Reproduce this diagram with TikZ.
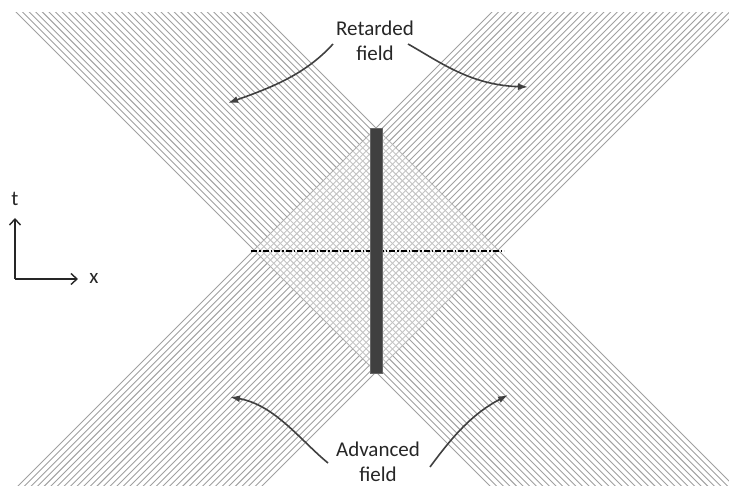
\documentclass[tikz,border=0pt]{standalone}
\usepackage{fontspec}
\setmainfont{Carlito}
\usetikzlibrary{arrows.meta}
\definecolor{linegray}{HTML}{A0A0A0}
\definecolor{bargray}{HTML}{404040}
\begin{document}
\begin{tikzpicture}[x=1pt,y=-1pt,
  fieldline/.style={draw=linegray,line width=0.9pt},
  curvearrow/.style={draw=bargray,line width=1.6pt,-{Latex[length=10pt,width=7pt]}},
  axisarrow/.style={draw=black!85,line width=1.4pt,-{Straight Barb[length=6pt,width=11pt]}},
  lbl/.style={font=\fontsize{21}{25}\selectfont,align=center,text=black!85,inner sep=0pt}]
\useasboundingbox (0,0) rectangle (729,486);
% field lines
\begin{scope}
  \clip (0,13) rectangle (729,486);
  \foreach \i in {0,...,37} {
    \pgfmathsetmacro\yy{128+\i*244/37}
    \draw[fieldline] (-124,\yy-500) -- (876,\yy+500);
    \draw[fieldline] (-124,\yy+500) -- (876,\yy-500);
  }
\end{scope}
% lighter crossing diamond
\fill[white,opacity=0.38] (376,128) -- (254,250) -- (376,372) -- (498,250) -- cycle;
% t = 0 line
\coordinate (dl) at (251,251);
\coordinate (dr) at (504,251);
\draw[black,line width=1.3pt,dash pattern=on 6pt off 2pt on 1.5pt off 2pt] (dl) -- (dr);
% source bar
\node[draw=bargray!80,fill=bargray,minimum width=12pt,minimum height=245pt,inner sep=0pt] (bar) at (376.5,250.5) {};
% labels
\node[lbl] (ret) at (375,41) {Retarded\\field};
\node[lbl] (adv) at (378,462) {Advanced\\field};
\coordinate (r1s) at (333,44);  \coordinate (r1e) at (228,103);
\coordinate (r2s) at (408,44);  \coordinate (r2e) at (528,87);
\coordinate (a1s) at (328,463); \coordinate (a1e) at (230,397);
\coordinate (a2s) at (430,467); \coordinate (a2e) at (508,395);
\draw[curvearrow] (r1s) .. controls (305,75) and (270,88) .. (r1e);
\draw[curvearrow] (r2s) .. controls (440,62) and (470,85) .. (r2e);
\draw[curvearrow] (a1s) .. controls (300,440) and (275,405) .. (a1e);
\draw[curvearrow] (a2s) .. controls (450,440) and (470,415) .. (a2e);
% axes
\coordinate (o) at (15,279);
\coordinate (tt) at (15,218);
\coordinate (xt) at (78,279);
\draw[axisarrow] (o) -- (tt);
\draw[axisarrow] (o) -- (xt);
\node[lbl] (tl) at (15,199) {t};
\node[lbl] (xl) at (94,278) {x};
\end{tikzpicture}
\end{document}
